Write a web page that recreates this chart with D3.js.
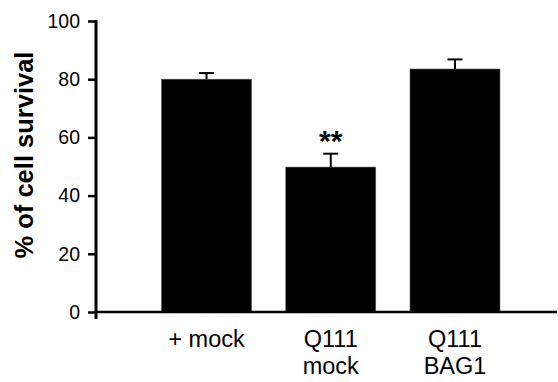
<!DOCTYPE html>
<html>
<head>
<meta charset="utf-8">
<script src="https://cdn.jsdelivr.net/npm/d3@7.9.0/dist/d3.min.js"></script>
<style>
  html, body { margin: 0; padding: 0; background: #fff; }
  svg { display: block; font-family: Arial, "Liberation Sans", sans-serif; }
</style>
</head>
<body>
<svg width="558" height="382"></svg>
<script>
// data
const categories = [['+ mock'], ['Q111', 'mock'], ['Q111', 'BAG1']];
const survival = [80, 49.8, 83.5];
const errors = [2.1, 4.6, 3.3];
const marks = ['', '**', ''];
const yTicks = [0, 20, 40, 60, 80, 100];

const svg = d3.select('svg');

const y = d3.scaleLinear().domain([0, 100]).range([312, 21]);
const x = d3.scaleBand()
  .domain(d3.range(categories.length))
  .range([144.4, 517.1])
  .paddingInner(0.276)
  .paddingOuter(0.138);

// bars
svg.selectAll('rect.bar')
  .data(survival)
  .join('rect')
  .attr('class', 'bar')
  .attr('x', (d, i) => x(i))
  .attr('width', x.bandwidth())
  .attr('y', d => y(d))
  .attr('height', d => y(0) - y(d))
  .attr('fill', '#000')
  .attr('stroke', '#555')
  .attr('stroke-width', 0.6);

// error bars (upper only)
const cx = i => x(i) + x.bandwidth() / 2;
survival.forEach((v, i) => {
  const top = y(v + errors[i]);
  svg.append('line')
    .attr('x1', cx(i)).attr('x2', cx(i))
    .attr('y1', y(v)).attr('y2', top)
    .attr('stroke', '#000').attr('stroke-width', 2);
  svg.append('line')
    .attr('x1', cx(i) - 7.5).attr('x2', cx(i) + 7.5)
    .attr('y1', top).attr('y2', top)
    .attr('stroke', '#000').attr('stroke-width', 2);
  if (marks[i]) {
    svg.append('text')
      .attr('x', cx(i))
      .attr('y', top - 3)
      .attr('text-anchor', 'middle')
      .attr('font-size', 30)
      .attr('font-weight', 'bold')
      .text(marks[i]);
  }
});

// y axis
const yAxis = svg.append('g')
  .attr('transform', 'translate(96,0)')
  .call(d3.axisLeft(y).tickValues(yTicks).tickSize(8).tickPadding(8));
yAxis.select('.domain').remove();
yAxis.selectAll('.tick line').attr('stroke', '#000').attr('stroke-width', 2.5);
yAxis.selectAll('.tick text')
  .attr('font-size', 19.5)
  .attr('font-family', 'Arial, "Liberation Sans", sans-serif')
  .attr('fill', '#000');

svg.append('line')
  .attr('x1', 96).attr('x2', 96)
  .attr('y1', y(100) - 1).attr('y2', y(0) + 7)
  .attr('stroke', '#000').attr('stroke-width', 3);

// x axis line
svg.append('line')
  .attr('x1', 96).attr('x2', 557)
  .attr('y1', y(0)).attr('y2', y(0))
  .attr('stroke', '#000').attr('stroke-width', 2.5);

// category labels
categories.forEach((lines, i) => {
  const t = svg.append('text')
    .attr('text-anchor', 'middle')
    .attr('font-size', 23.5)
    .attr('fill', '#000');
  lines.forEach((s, j) => {
    t.append('tspan')
      .attr('x', cx(i))
      .attr('y', 347 + j * 27)
      .text(s);
  });
});

// y title
svg.append('text')
  .attr('transform', 'translate(33,155) rotate(-90)')
  .attr('text-anchor', 'middle')
  .attr('font-size', 25.5)
  .attr('font-weight', 'bold')
  .attr('fill', '#000')
  .text('% of cell survival');
</script>
</body>
</html>
